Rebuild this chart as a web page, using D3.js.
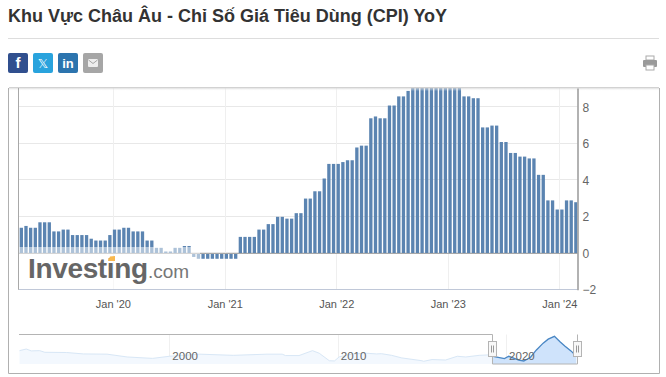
<!DOCTYPE html>
<html>
<head>
<meta charset="utf-8">
<script src="https://cdn.jsdelivr.net/npm/d3@7"></script>
<style>
  html, body { margin: 0; padding: 0; background: #fff; }
  svg { display: block; font-family: "Liberation Sans", Arial, sans-serif; }
</style>
</head>
<body>
<div id="chart"></div>
<script>
var chartTitle = 'Khu Vực Châu Âu - Chỉ Số Giá Tiêu Dùng (CPI) YoY';

// two readings per month (flash and final), Mar 2019 to Feb 2024
var cpiValues = [
  1.4, 1.5, 1.4, 1.4, 1.7, 1.7, 1.7, 1.2, 1.2, 1.3, 1.3, 1.0, 1.0, 1.0, 1.0, 0.8, 0.7, 0.7, 0.7, 1.0,
  1.3, 1.3, 1.4, 1.4, 1.2, 1.2, 1.2, 0.7, 0.7, 0.3, 0.3, 0.1, 0.1, 0.3, 0.3, 0.4, 0.4, -0.2, -0.3, -0.3,
  -0.3, -0.3, -0.3, -0.3, -0.3, -0.3, -0.3, 0.9, 0.9, 0.9, 0.9, 1.3, 1.3, 1.6, 1.6, 2.0, 2.0, 1.9, 1.9, 2.2,
  2.2, 3.0, 3.0, 3.4, 3.4, 4.1, 4.9, 4.9, 4.9, 5.0, 5.1, 5.1, 5.8, 5.9, 5.9, 7.4, 7.5, 7.4, 7.4, 8.1,
  8.1, 8.6, 8.6, 8.9, 9.1, 9.1, 10.0, 9.9, 10.7, 10.6, 10.0, 10.1, 9.2, 9.2, 9.2, 8.6, 8.6, 8.5, 8.5, 6.9,
  6.9, 7.0, 7.0, 6.1, 6.1, 5.5, 5.5, 5.3, 5.3, 5.2, 5.2, 4.3, 4.3, 2.9, 2.9, 2.4, 2.4, 2.9, 2.9, 2.8
];

var yTicks = [-2, 0, 2, 4, 6, 8];
var xTickDates = ['2020-01-01', '2021-01-01', '2022-01-01', '2023-01-01', '2024-01-01'];
var xTickLabels = ["Jan '20", "Jan '21", "Jan '22", "Jan '23", "Jan '24"];

// long history shown in the navigator
var navYears = [
  1991.1, 1991.5, 1991.8, 1992.3, 1992.6, 1993.9, 1994.9, 1996.3, 1997.5, 1999, 2000, 2001.8, 2003.8,
  2005.8, 2006.7, 2006.9, 2007.7, 2008.5, 2008.9, 2009.5, 2009.8, 2010.1, 2010.9, 2011.7, 2012.3, 2012.6,
  2013.2, 2013.8, 2015, 2015.1, 2015.6, 2016.4, 2017.1, 2017.6, 2018.4, 2019, 2019.3, 2019.9, 2020.16,
  2020.75, 2021.05, 2021.45, 2021.8, 2022.2, 2022.5, 2022.87, 2023.2, 2023.5, 2023.85, 2024.05, 2024.18
];
var navValues = [
  4.7, 5.4, 4.6, 4.7, 4.0, 3.9, 3.3, 3.2, 2.0, 1.4, 2.3, 3.2, 2.7,
  3.2, 3.2, 2.6, 2.6, 4.7, 3.6, 0.4, 0.3, 2.1, 3.3, 3.6, 3.3, 3.4,
  2.7, 1.6, 0.4, 0.15, 0.9, 0.7, 2.3, 2.0, 2.7, 2.9, 2.1, 1.3, 2.3,
  0.7, 0.3, 1.9, 5.0, 7.9, 9.6, 10.8, 8.5, 6.6, 4.6, 3.2, 2.8
];
var navTickYears = [2000, 2010, 2020];
var navSelection = [2019.16, 2024.18];

var chartWidth = 666;
var chartHeight = 377;
var plotLeft = 19;
var plotRight = 577.5;
var plotTop = 88;
var plotBottom = 289.8;
var navTop = 334.5;
var navBottom = 364;

var svg = d3.select('#chart')
    .append('svg')
    .attr('width', chartWidth)
    .attr('height', chartHeight);

var defs = svg.append('defs');
defs.append('clipPath')
    .attr('id', 'plot-clip')
    .append('rect')
    .attr('x', plotLeft)
    .attr('y', plotTop)
    .attr('width', plotRight - plotLeft)
    .attr('height', plotBottom - plotTop);
var shade = defs.append('linearGradient')
    .attr('id', 'top-shade')
    .attr('x1', 0).attr('x2', 0).attr('y1', 0).attr('y2', 1);
shade.append('stop').attr('offset', '0%').attr('stop-color', '#c4c4c4');
shade.append('stop').attr('offset', '100%').attr('stop-color', '#fff').attr('stop-opacity', 0);

// Header
svg.append('text')
    .attr('x', 8)
    .attr('y', 22)
    .attr('font-size', 18)
    .attr('font-weight', 'bold')
    .attr('fill', '#333')
    .text(chartTitle);

svg.append('line')
    .attr('x1', 8).attr('x2', 659)
    .attr('y1', 38.5).attr('y2', 38.5)
    .attr('stroke', '#ddd');

// Share buttons
var buttons = svg.selectAll('.share')
    .data([
      {x: 8, color: '#304f8e', label: 'f'},
      {x: 33, color: '#29a3dd', label: '𝕏'},
      {x: 58, color: '#2c74ae', label: 'in'},
      {x: 83, color: '#a6a6a6', label: ''}
    ])
    .enter()
    .append('g')
    .attr('class', 'share')
    .attr('transform', function(d) {
      return 'translate(' + d.x + ',53)';
    });

buttons.append('rect')
    .attr('width', 20)
    .attr('height', 20)
    .attr('rx', 2)
    .attr('fill', function(d) {
      return d.color;
    });

buttons.append('text')
    .attr('x', 10)
    .attr('y', 15)
    .attr('text-anchor', 'middle')
    .attr('font-size', function(d) {
      return d.label === 'f' ? 15 : 13;
    })
    .attr('font-weight', function(d) {
      return d.label === '𝕏' ? 'normal' : 'bold';
    })
    .attr('font-family', function(d) {
      return d.label === '𝕏' ? '"DejaVu Sans", "Liberation Sans"' : null;
    })
    .attr('fill', '#fff')
    .text(function(d) {
      return d.label;
    });

// Envelope on the mail button
var mail = svg.append('g').attr('transform', 'translate(88,59)');
mail.append('rect').attr('width', 10).attr('height', 8).attr('rx', 1).attr('fill', '#eee');
mail.append('path').attr('d', 'M0.5,1 L5,4.5 L9.5,1').attr('fill', 'none').attr('stroke', '#a6a6a6');

// Printer icon
var printer = svg.append('g').attr('transform', 'translate(643,56)').attr('fill', '#9a9a9a');
printer.append('rect').attr('x', 3).attr('y', 0).attr('width', 8).attr('height', 4).attr('fill', '#fff').attr('stroke', '#aaa');
printer.append('rect').attr('x', 0).attr('y', 4).attr('width', 14).attr('height', 7).attr('rx', 1);
printer.append('rect').attr('x', 3).attr('y', 9).attr('width', 8).attr('height', 5).attr('fill', '#fff').attr('stroke', '#aaa');

// Outer frame
svg.append('path')
    .attr('d', 'M8.5,88 V373.5 H659.5 V88')
    .attr('fill', 'none')
    .attr('stroke', '#b0b0b0');

// Create Scales
var scaleX = d3.scaleBand()
    .domain(d3.range(cpiValues.length))
    .range([19, 578.2])
    .paddingInner(0.29)
    .paddingOuter(0.145);

var scaleTime = d3.scaleUtc()
    .domain([new Date('2019-02-28'), new Date('2024-03-02')])
    .range([plotLeft, plotRight + 0.5]);

var scaleY = d3.scaleLinear()
    .domain([-2, 9.06])
    .range([plotBottom, plotTop]);

var scaleNavX = d3.scaleLinear()
    .domain([1991.07, 2024.18])
    .range([plotLeft, 576.5]);

var scaleNavY = d3.scaleLinear()
    .domain([-1, 11.6])
    .range([navBottom, navTop]);

var tickDates = xTickDates.map(function(d) {
  return new Date(d);
});

// Gridlines
svg.append('g')
    .selectAll('line')
    .data(yTicks.slice(1))
    .enter()
    .append('line')
    .attr('x1', plotLeft)
    .attr('x2', plotRight)
    .attr('y1', function(d) {
      return Math.round(scaleY(d)) - 0.5;
    })
    .attr('y2', function(d) {
      return Math.round(scaleY(d)) - 0.5;
    })
    .attr('stroke', '#e8e8e8');

svg.append('g')
    .selectAll('line')
    .data(tickDates)
    .enter()
    .append('line')
    .attr('x1', function(d) {
      return Math.round(scaleTime(d)) + 0.5;
    })
    .attr('x2', function(d) {
      return Math.round(scaleTime(d)) + 0.5;
    })
    .attr('y1', plotTop)
    .attr('y2', plotBottom)
    .attr('stroke', '#efefef');

// Create Bars
svg.append('g')
    .attr('clip-path', 'url(#plot-clip)')
    .selectAll('rect')
    .data(cpiValues)
    .enter()
    .append('rect')
    .attr('x', function(d, i) {
      return scaleX(i);
    })
    .attr('width', scaleX.bandwidth())
    .attr('y', function(d) {
      return scaleY(Math.max(d, 0));
    })
    .attr('height', function(d) {
      return Math.abs(scaleY(d) - scaleY(0));
    })
    .attr('fill', '#5b84b1');

// Zero line
svg.append('line')
    .attr('x1', plotLeft)
    .attr('x2', plotRight)
    .attr('y1', Math.round(scaleY(0)) + 0.5)
    .attr('y2', Math.round(scaleY(0)) + 0.5)
    .attr('stroke', '#a8a8a8');

// Watermark: pale box behind the logo, then the logo
svg.append('rect')
    .attr('x', plotLeft)
    .attr('y', 247)
    .attr('width', 181)
    .attr('height', 42)
    .attr('fill', '#fff')
    .attr('fill-opacity', 0.5);

svg.append('text')
    .attr('x', 28)
    .attr('y', 278)
    .attr('font-size', 28)
    .attr('font-weight', 'bold')
    .attr('letter-spacing', -0.35)
    .attr('fill', '#666')
    .text('Investing');

svg.append('text')
    .attr('x', 148)
    .attr('y', 278)
    .attr('font-size', 19)
    .attr('fill', '#777')
    .text('.com');

svg.append('path')
    .attr('d', 'M110,256.5 L115,256 L115,261 L108,261 Z')
    .attr('fill', '#f9b94f');

// Plot frame and top shadow
svg.append('rect')
    .attr('x', 9)
    .attr('y', 87)
    .attr('width', 650)
    .attr('height', 4)
    .attr('fill', 'url(#top-shade)');

svg.append('line')
    .attr('x1', 18.5).attr('x2', 18.5)
    .attr('y1', plotTop).attr('y2', plotBottom)
    .attr('stroke', '#a8a8a8');

svg.append('line')
    .attr('x1', plotLeft).attr('x2', plotRight)
    .attr('y1', 289.5).attr('y2', 289.5)
    .attr('stroke', '#c0c8d8');

// Axes
var axisY = svg.append('g')
    .attr('transform', 'translate(577.5,0)')
    .call(d3.axisRight(scaleY)
        .tickValues(yTicks)
        .tickSize(0)
        .tickPadding(5));
axisY.select('.domain').attr('stroke', '#999').attr('stroke-width', 1.5);
axisY.selectAll('text')
    .attr('font-family', null)
    .attr('font-size', 12)
    .attr('fill', '#666');

var axisX = svg.append('g')
    .attr('transform', 'translate(0,' + plotBottom + ')')
    .call(d3.axisBottom(scaleTime)
        .tickValues(tickDates)
        .tickFormat(function(d, i) {
          return xTickLabels[i];
        })
        .tickSize(0)
        .tickPadding(10));
axisX.select('.domain').remove();
axisX.selectAll('text')
    .attr('font-family', null)
    .attr('font-size', 11)
    .attr('fill', '#555');

// Navigator
var navArea = d3.area()
    .x(function(d, i) {
      return scaleNavX(navYears[i]);
    })
    .y0(navBottom)
    .y1(function(d) {
      return scaleNavY(d);
    });

var navLine = d3.line()
    .x(function(d, i) {
      return scaleNavX(navYears[i]);
    })
    .y(function(d) {
      return scaleNavY(d);
    });

svg.append('g')
    .selectAll('line')
    .data(navTickYears)
    .enter()
    .append('line')
    .attr('x1', function(d) {
      return Math.round(scaleNavX(d)) + 0.5;
    })
    .attr('x2', function(d) {
      return Math.round(scaleNavX(d)) + 0.5;
    })
    .attr('y1', navTop)
    .attr('y2', navBottom)
    .attr('stroke', '#f0f0f0');

defs.append('clipPath')
    .attr('id', 'nav-selected')
    .append('rect')
    .attr('x', scaleNavX(navSelection[0]))
    .attr('y', navTop)
    .attr('width', scaleNavX(navSelection[1]) - scaleNavX(navSelection[0]))
    .attr('height', navBottom - navTop);

svg.append('path')
    .datum(navValues)
    .attr('d', navArea)
    .attr('fill', '#f3f8fe');
svg.append('path')
    .datum(navValues)
    .attr('d', navLine)
    .attr('fill', 'none')
    .attr('stroke', '#d8e7f6');

svg.append('path')
    .datum(navValues)
    .attr('d', navArea)
    .attr('clip-path', 'url(#nav-selected)')
    .attr('fill', '#cfe3fb');
svg.append('path')
    .datum(navValues)
    .attr('d', navLine)
    .attr('clip-path', 'url(#nav-selected)')
    .attr('fill', 'none')
    .attr('stroke', '#4a87c4')
    .attr('stroke-width', 1.3);

svg.append('g')
    .selectAll('text')
    .data(navTickYears)
    .enter()
    .append('text')
    .attr('x', function(d) {
      return scaleNavX(d) + 3;
    })
    .attr('y', 360)
    .attr('font-size', 11.5)
    .attr('fill', '#666')
    .text(function(d) {
      return d;
    });

// Navigator outline around the selected window
var selLeft = Math.round(scaleNavX(navSelection[0])) + 0.5;
var selRight = Math.round(scaleNavX(navSelection[1])) + 0.5;
svg.append('path')
    .attr('d', 'M' + plotLeft + ',' + navTop + ' H' + selLeft + ' V' + navBottom + ' H' + selRight + ' V' + navTop)
    .attr('fill', 'none')
    .attr('stroke', '#b4b4b4');

// Handles
var handles = svg.selectAll('.handle')
    .data([selLeft, selRight])
    .enter()
    .append('g')
    .attr('class', 'handle')
    .attr('transform', function(d) {
      return 'translate(' + (d - 4) + ',341.5)';
    });

handles.append('rect')
    .attr('width', 8)
    .attr('height', 15)
    .attr('fill', '#f8f8f8')
    .attr('stroke', '#b4b4b4');

handles.append('path')
    .attr('d', 'M3,4 V11 M5,4 V11')
    .attr('stroke', '#999');
</script>
</body>
</html>
